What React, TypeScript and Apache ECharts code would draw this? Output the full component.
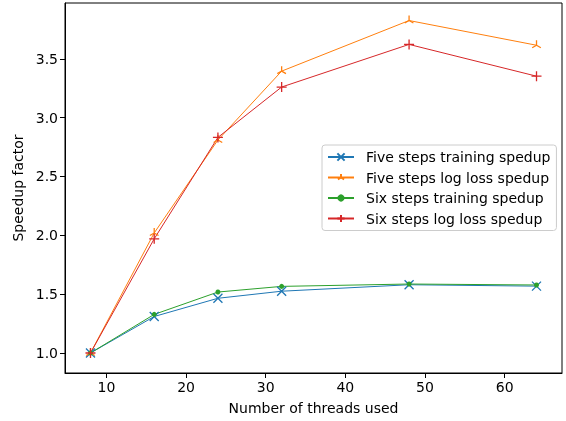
import React, { useEffect, useRef } from "react";
import * as echarts from "echarts";

const threads = [8, 16, 24, 32, 48, 64];
const fiveTraining = [1.0, 1.31, 1.465, 1.525, 1.58, 1.568];
const fiveLogLoss = [1.0, 2.02, 2.81, 3.395, 3.825, 3.615];
const sixTraining = [1.0, 1.328, 1.518, 1.566, 1.586, 1.578];
const sixLogLoss = [1.0, 1.97, 2.832, 3.26, 3.622, 3.352];

const seriesNames = [
  "Five steps training spedup",
  "Five steps log loss spedup",
  "Six steps training spedup",
  "Six steps log loss spedup",
];
const xTicks = [10, 20, 30, 40, 50, 60];
const yTicks = [1.0, 1.5, 2.0, 2.5, 3.0, 3.5];

const FONT = "DejaVu Sans";
const xSym = "path://M0,0L10,10M10,0L0,10";
const plusSym = "path://M5,0L5,10M0,5L10,5";
const triSym = "path://M5,5L5,0M5,5L0.67,7.5M5,5L9.33,7.5M5,10L5,10M0,5L0,5M10,5L10,5";

export default function App() {
  const ref = useRef<HTMLDivElement>(null);
  useEffect(() => {
    if (!ref.current) return;
    const chart = echarts.init(ref.current, null, { renderer: "svg" });
    const mk = (name: string, vals: number[], color: string, symbol: string, size: number, stroke: boolean) => ({
      name,
      type: "line",
      data: threads.map((t, i) => [t, vals[i]]),
      symbol,
      symbolSize: size,
      symbolKeepAspect: true,
      showAllSymbol: true,
      lineStyle: { color, width: 1 },
      itemStyle: stroke
        ? { color, borderColor: color, borderWidth: 1.3 }
        : { color, borderWidth: 0 },
      emphasis: { disabled: true },
      z: 2,
    });
    chart.setOption({
      animation: false,
      textStyle: { fontFamily: FONT },
      grid: {
        left: 65,
        right: 4,
        top: 3,
        bottom: 48,
        show: true,
        borderColor: "#000",
        borderWidth: 1,
        backgroundColor: "transparent",
      },
      xAxis: {
        type: "value",
        min: 4.8,
        max: 67.2,
        name: "Number of threads used",
        nameLocation: "middle",
        nameGap: 28,
        nameTextStyle: { fontSize: 14, color: "#000", fontFamily: FONT },
        axisLine: { show: true, lineStyle: { color: "#000", width: 1 } },
        axisTick: { show: true, length: 5, customValues: xTicks, lineStyle: { color: "#000" } },
        axisLabel: { customValues: xTicks, fontSize: 14, color: "#000", margin: 7, fontFamily: FONT },
        splitLine: { show: false },
      },
      yAxis: {
        type: "value",
        min: 0.83,
        max: 3.974,
        name: "Speedup factor",
        nameLocation: "middle",
        nameGap: 36,
        nameTextStyle: { fontSize: 14, color: "#000", fontFamily: FONT },
        axisLine: { show: true, lineStyle: { color: "#000", width: 1 } },
        axisTick: { show: true, length: 5, customValues: yTicks, lineStyle: { color: "#000" } },
        axisLabel: {
          customValues: yTicks,
          fontSize: 14,
          color: "#000",
          margin: 7,
          fontFamily: FONT,
          formatter: (v: number) => v.toFixed(1),
        },
        splitLine: { show: false },
      },
      legend: {
        orient: "vertical",
        left: 322,
        top: 145,
        data: seriesNames,
        itemWidth: 26,
        itemHeight: 9,
        itemGap: 6.5,
        padding: [5, 6, 5, 5],
        backgroundColor: "rgba(255,255,255,0.8)",
        borderColor: "#cccccc",
        borderWidth: 1,
        borderRadius: 3,
        textStyle: { fontSize: 14, color: "#000", fontFamily: FONT, padding: [0, 0, 0, 7] },
        selectedMode: false,
      },
      series: [
        mk(seriesNames[0], fiveTraining, "#1f77b4", xSym, 9, true),
        mk(seriesNames[1], fiveLogLoss, "#ff7f0e", triSym, 10, true),
        mk(seriesNames[2], sixTraining, "#2ca02c", "circle", 5, false),
        mk(seriesNames[3], sixLogLoss, "#d62728", plusSym, 10, true),
      ],
    });
    return () => chart.dispose();
  }, []);
  return (
    <div
      ref={ref}
      style={{ position: "fixed", left: 0, top: 0, width: 566, height: 421 }}
    />
  );
}
